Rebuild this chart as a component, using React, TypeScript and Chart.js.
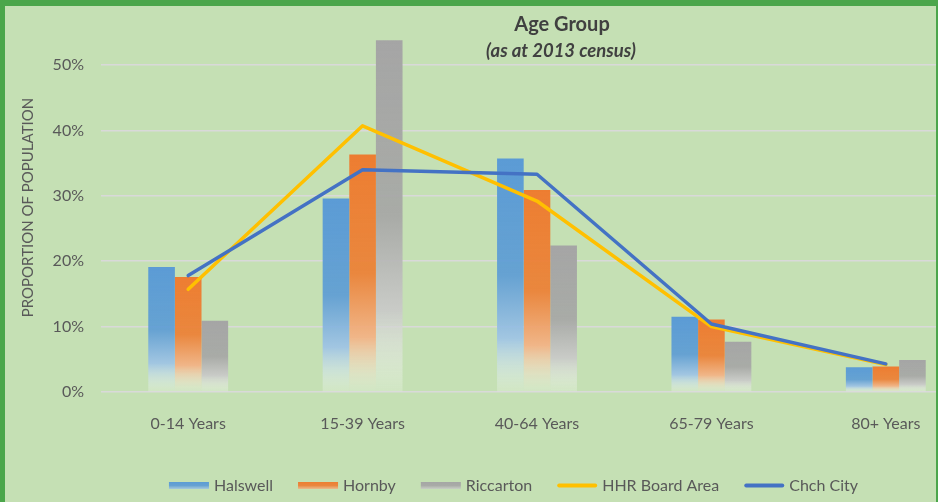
import React, { useEffect, useRef } from 'react';
import { Chart, registerables } from 'chart.js';

Chart.register(...registerables);

// ---- data ----
const categories = ['0-14 Years', '15-39 Years', '40-64 Years', '65-79 Years', '80+ Years'];
const halswell = [0.191, 0.296, 0.357, 0.115, 0.038];
const hornby = [0.176, 0.363, 0.309, 0.111, 0.039];
const riccarton = [0.109, 0.538, 0.224, 0.077, 0.049];
const hhrBoard = [0.157, 0.407, 0.292, 0.1, 0.042];
const chchCity = [0.178, 0.34, 0.333, 0.104, 0.043];
const seriesNames = ['Halswell', 'Hornby', 'Riccarton', 'HHR Board Area', 'Chch City'];
const titleText = 'Age Group';
const subtitleText = '(as at 2013 census)';
const yTitleText = 'PROPORTION OF POPULATION';
const yMax = 0.6;
const yStep = 0.1;

const PAD_TOP = 20; // layout padding at the top of the canvas
const SHIFT = 27; // canvas is shifted up by this many px
const FONT = 'Lato, "Open Sans", sans-serif';

type RGB = [number, number, number];
const barColors: { base: RGB; tint: RGB }[] = [
  { base: [91, 155, 213], tint: [157, 195, 230] },
  { base: [237, 125, 49], tint: [244, 177, 131] },
  { base: [165, 165, 165], tint: [201, 201, 201] },
];
const lineColors = ['#ffc000', '#4472c4'];

const rgba = (c: RGB, a: number) => `rgba(${c[0]},${c[1]},${c[2]},${a})`;

function makeGradient(g: CanvasRenderingContext2D, top: number, bottom: number, col: { base: RGB; tint: RGB }) {
  const grad = g.createLinearGradient(0, top, 0, bottom);
  grad.addColorStop(0, rgba(col.base, 1));
  grad.addColorStop(0.5, rgba(col.base, 0.9));
  grad.addColorStop(0.77, rgba(col.tint, 0.9));
  grad.addColorStop(1, 'rgba(255,255,255,0.2)');
  return grad;
}

function barFill(idx: number) {
  return (c: any) => {
    const chart = c.chart;
    const col = barColors[idx];
    if (!chart.chartArea || c.type !== 'data') return rgba(col.base, 1);
    const y = chart.scales.y;
    const top = y.getPixelForValue(c.raw as number);
    const bottom = y.getPixelForValue(0);
    if (!isFinite(top) || !isFinite(bottom) || bottom - top < 1) return rgba(col.base, 1);
    return makeGradient(chart.ctx, top, bottom, col);
  };
}

const overlayPlugin = {
  id: 'overlay',
  afterDraw(chart: any) {
    const ctx: CanvasRenderingContext2D = chart.ctx;
    ctx.save();
    ctx.textAlign = 'center';
    ctx.textBaseline = 'middle';
    ctx.fillStyle = '#404040';
    ctx.font = `bold 20px ${FONT}`;
    ctx.fillText(titleText, 562, 25 + SHIFT);
    ctx.font = `italic bold 18.5px ${FONT}`;
    ctx.fillText(subtitleText, 561, 51 + SHIFT);

    // y axis title
    ctx.save();
    ctx.translate(28, 207.5 + SHIFT);
    ctx.rotate(-Math.PI / 2);
    ctx.font = `15px ${FONT}`;
    ctx.fillStyle = '#595959';
    ctx.fillText(yTitleText, 0, 0);
    ctx.restore();

    // legend
    ctx.font = `16px ${FONT}`;
    ctx.textAlign = 'left';
    const markerW = 40;
    const gapText = 5;
    const gapItem = 25;
    const widths = seriesNames.map((n) => ctx.measureText(n).width);
    const total = widths.reduce((s, w) => s + markerW + gapText + w, 0) + gapItem * (seriesNames.length - 1);
    let x = 513.5 - total / 2;
    const cy = 485.5 + SHIFT;
    seriesNames.forEach((name, i) => {
      if (i < 3) {
        const top = cy - 3.5;
        const g = ctx.createLinearGradient(0, top, 0, top + 7);
        const col = barColors[i];
        g.addColorStop(0, rgba(col.base, 1));
        g.addColorStop(0.5, rgba(col.base, 0.9));
        g.addColorStop(1, rgba(col.tint, 0.8));
        ctx.fillStyle = g;
        ctx.fillRect(x, top, markerW, 7);
      } else {
        ctx.strokeStyle = lineColors[i - 3];
        ctx.lineWidth = 4;
        ctx.lineCap = 'round';
        ctx.beginPath();
        ctx.moveTo(x + 2, cy);
        ctx.lineTo(x + markerW - 2, cy);
        ctx.stroke();
      }
      ctx.fillStyle = '#595959';
      ctx.fillText(name, x + markerW + gapText, cy);
      x += markerW + gapText + widths[i] + gapItem;
    });
    ctx.restore();
  },
};

export default function App() {
  const ref = useRef<HTMLCanvasElement | null>(null);

  useEffect(() => {
    if (!ref.current) return;
    const barSets = [halswell, hornby, riccarton].map((data, i) => ({
      type: 'bar' as const,
      label: seriesNames[i],
      data,
      backgroundColor: barFill(i),
      borderWidth: 0,
      barPercentage: 1,
      categoryPercentage: 0.458,
      order: 2,
    }));
    const lineSets = [hhrBoard, chchCity].map((data, i) => ({
      type: 'line' as const,
      label: seriesNames[3 + i],
      data,
      borderColor: lineColors[i],
      backgroundColor: lineColors[i],
      borderWidth: 3.5,
      pointRadius: 0,
      tension: 0,
      fill: false,
      borderCapStyle: 'round' as const,
      borderJoinStyle: 'round' as const,
      order: i === 0 ? 1 : 0,
    }));

    const chart = new Chart(ref.current, {
      type: 'bar',
      data: { labels: categories, datasets: [...barSets, ...lineSets] as any },
      options: {
        responsive: false,
        animation: false,
        layout: { padding: { left: 0, right: 27, top: PAD_TOP, bottom: 0 } },
        plugins: {
          legend: { display: false },
          title: { display: false },
          tooltip: { enabled: false },
        },
        scales: {
          x: {
            grid: { display: false },
            border: { display: false },
            ticks: {
              color: '#595959',
              font: { family: FONT, size: 16 },
              padding: 14,
              maxRotation: 0,
              autoSkip: false,
            },
            afterFit: (s: any) => {
              s.height = 110;
            },
          },
          y: {
            min: 0,
            max: yMax,
            border: { display: false },
            grid: { color: '#d9d9d9', lineWidth: 1.5, drawTicks: false },
            ticks: {
              stepSize: yStep,
              color: '#595959',
              font: { family: FONT, size: 16 },
              padding: 17,
              callback: (v: any) => (Number(v) > 0.55 ? '' : `${Math.round(Number(v) * 100)}%`),
            },
            afterFit: (s: any) => {
              s.width = 101;
            },
          },
        },
      },
      plugins: [overlayPlugin],
    });
    return () => chart.destroy();
  }, []);

  return (
    <div
      style={{
        position: 'absolute',
        left: 0,
        top: 0,
        width: 938,
        height: 502,
        overflow: 'hidden',
        background: '#c5e0b4',
      }}
    >
      <canvas
        ref={ref}
        width={1000}
        height={502 + SHIFT}
        style={{ position: 'absolute', left: 0, top: -SHIFT, width: 1000, height: 502 + SHIFT }}
      />
      <div
        style={{
          position: 'absolute',
          left: 0,
          top: 0,
          right: 0,
          bottom: 0,
          borderLeft: '5px solid #4ba64b',
          borderTop: '6px solid #4ba64b',
          borderRight: '2px solid #4ba64b',
          pointerEvents: 'none',
        }}
      />
    </div>
  );
}
